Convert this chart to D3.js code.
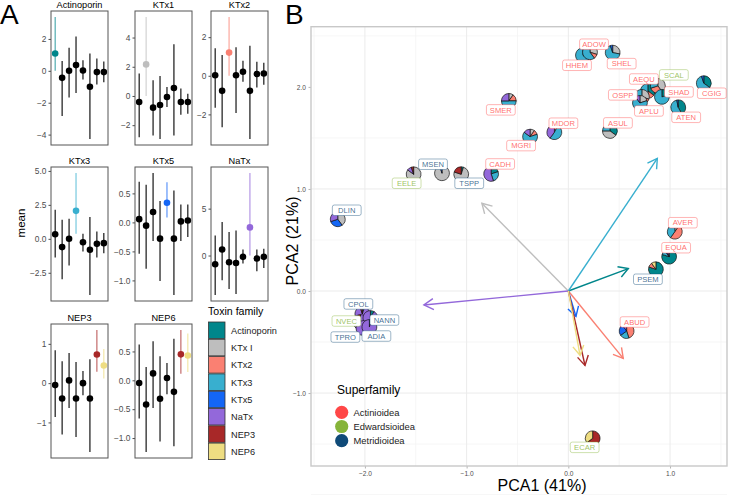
<!DOCTYPE html>
<html>
<head>
<meta charset="utf-8">
<script src="https://cdn.jsdelivr.net/npm/d3@7"></script>
<style>
body { margin: 0; background: #fff; }
svg { font-family: "Liberation Sans", Arial, sans-serif; }
</style>
</head>
<body>
<svg id="fig" width="731" height="495"></svg>
<script>
// toxin families, in the order they sit along each facet's x axis
var families = ["Actinoporin", "KTx1", "KTx2", "KTx3", "KTx5", "NaTx", "NEP3", "NEP6"];
var legendNames = ["Actinoporin", "KTx I", "KTx2", "KTx3", "KTx5", "NaTx", "NEP3", "NEP6"];
var familyColors = ["#00868B", "#BEBEBE", "#FA8072", "#38AFCF", "#1466F5", "#9368DA", "#A82828", "#EEDD82"];

// panel A: one row per facet, values per family
var facetTitles = ["Actinoporin", "KTx1", "KTx2", "KTx3", "KTx5", "NaTx", "NEP3", "NEP6"];
var means = [
    [1.09, -0.44, 0.0, 0.36, 0.02, -1.0, -0.08, -0.08],
    [-0.41, 2.16, -0.8, -0.62, -0.07, 0.55, -0.41, -0.41],
    [0.03, -0.78, 1.2, 0.03, 0.21, -0.78, 0.09, 0.12],
    [0.34, -0.61, 0.0, 2.06, -0.25, -0.81, -0.37, -0.32],
    [0.056, -0.056, 0.18, -0.28, 0.34, -0.28, 0.017, 0.034],
    [-0.93, 0.64, -0.71, -0.79, -0.14, 3.0, -0.32, -0.14],
    [-0.05, -0.39, 0.07, -0.39, 0.0, -0.39, 0.73, 0.45],
    [-0.046, -0.42, 0.12, -0.32, 0.04, -0.2, 0.45, 0.43]
];
var lower = [
    [0, -2.84, -1.68, -1.39, -0.55, -4.27, -0.86, -0.72],
    [-2.83, 0, -2.71, -2.94, -0.76, -2.71, -1.29, -1.22],
    [-1.65, -2.66, 0, -1.93, -0.31, -3.27, -0.61, -0.47],
    [-1.38, -2.97, -1.97, 0.37, -0.93, -4.13, -1.38, -1.06],
    [-0.54, -0.8, -0.32, -1.01, 0.085, -1.25, -0.32, -0.25],
    [-4.2, -2.64, -3.57, -4.1, -0.86, 0, -1.68, -1.32],
    [-0.86, -1.31, -0.63, -1.37, -0.31, -1.75, 0.29, 0.12],
    [-0.66, -1.24, -0.48, -1.06, -0.24, -1.14, 0.115, 0.144]
];
var upper = [
    [3.37, 0.61, 1.45, 2.15, 0.67, 1.09, 0.78, 0.59],
    [1.54, 5.4, 1.08, 1.36, 0.62, 3.54, 0.51, 0.16],
    [1.43, 1.08, 3.04, 1.48, 0.78, 1.55, 0.73, 0.68],
    [2.14, 1.4, 1.47, 4.84, 0.37, 1.6, 0.54, 0.42],
    [0.70, 0.65, 0.85, 0.37, 0.69, 0.55, 0.31, 0.31],
    [2.14, 3.57, 2.5, 2.68, 0.64, 8.79, 0.64, 0.71],
    [0.84, 0.56, 0.77, 0.54, 0.31, 0.61, 1.35, 0.87],
    [0.62, 0.23, 0.675, 0.415, 0.3, 0.72, 0.87, 0.81]
];
var highlighted = [[0], [1], [2], [3], [4], [5], [6, 7], [6, 7]];
var facetTicks = [
    [-4, -2, 0, 2], [-2, 0, 2, 4], [-2, 0, 2], [-2.5, 0, 2.5, 5],
    [-1, -0.5, 0, 0.5], [0, 5], [-1, 0, 1], [-1, -0.5, 0, 0.5]
];
var facetTickFormat = ["d", "d", "d", ".1f", ".1f", "d", "d", ".1f"];

// panel B: species scores
var species = ["HHEM", "ADOW", "SHEL", "AEQU", "SCAL", "OSPP", "SHAD", "APLU", "CGIG", "ATEN",
    "SMER", "MDOR", "ASUL", "MGRI", "EELE", "MSEN", "TSPP", "CADH", "DLIN",
    "CPOL", "NVEC", "NANN", "TPRO", "ADIA", "AVER", "EQUA", "PSEM", "ABUD", "ECAR"];
var pc1 = [0.144, 0.213, 0.436, 0.782, 0.88, 0.723, 0.92, 0.704, 1.332, 1.08,
    -0.585, -0.137, 0.409, -0.376, -1.521, -1.242, -1.053, -0.759, -2.267,
    -2.025, -2.044, -1.946, -2.015, -1.956, 1.047, 0.991, 0.861, 0.573, 0.239];
var pc2 = [2.31, 2.34, 2.336, 1.96, 2.01, 1.902, 1.902, 1.843, 2.036, 1.80,
    1.863, 1.556, 1.569, 1.513, 1.144, 1.154, 1.144, 1.147, 0.703,
    -0.225, -0.304, -0.265, -0.363, -0.353, 0.581, 0.336, 0.213, -0.392, -1.444];
var superfamily = ["Actinioidea", "Actinioidea", "Actinioidea", "Actinioidea", "Edwardsioidea",
    "Actinioidea", "Actinioidea", "Actinioidea", "Actinioidea", "Actinioidea",
    "Actinioidea", "Actinioidea", "Actinioidea", "Actinioidea", "Edwardsioidea",
    "Metridioidea", "Metridioidea", "Actinioidea", "Metridioidea",
    "Metridioidea", "Edwardsioidea", "Metridioidea", "Metridioidea", "Metridioidea",
    "Actinioidea", "Actinioidea", "Metridioidea", "Actinioidea", "Edwardsioidea"];
// share of each toxin family per species (same order as families)
var pieShares = [
    [10, 25, 0, 65, 0, 0, 0, 0],
    [0, 30, 10, 60, 0, 0, 0, 0],
    [0, 28, 0, 67, 5, 0, 0, 0],
    [35, 0, 15, 50, 0, 0, 0, 0],
    [0, 40, 30, 30, 0, 0, 0, 0],
    [0, 30, 30, 40, 0, 0, 0, 0],
    [20, 0, 0, 80, 0, 0, 0, 0],
    [0, 20, 0, 70, 0, 10, 0, 0],
    [35, 0, 0, 60, 5, 0, 0, 0],
    [42, 0, 0, 55, 3, 0, 0, 0],
    [0, 10, 15, 50, 0, 25, 0, 0],
    [0, 8, 0, 52, 0, 40, 0, 0],
    [35, 40, 0, 25, 0, 0, 0, 0],
    [0, 10, 10, 65, 0, 15, 0, 0],
    [0, 85, 0, 0, 0, 10, 5, 0],
    [0, 95, 0, 0, 5, 0, 0, 0],
    [5, 75, 0, 0, 0, 0, 20, 0],
    [20, 0, 0, 25, 0, 55, 0, 0],
    [0, 40, 0, 0, 30, 30, 0, 0],
    [5, 0, 0, 0, 0, 90, 5, 0],
    [0, 0, 0, 0, 0, 95, 5, 0],
    [8, 0, 0, 0, 0, 92, 0, 0],
    [0, 0, 0, 0, 0, 100, 0, 0],
    [5, 0, 0, 0, 0, 95, 0, 0],
    [0, 10, 50, 40, 0, 0, 0, 0],
    [80, 0, 0, 10, 5, 5, 0, 0],
    [80, 0, 10, 0, 0, 0, 0, 10],
    [0, 0, 45, 20, 25, 10, 0, 0],
    [0, 0, 0, 0, 0, 0, 65, 35]
];
// loadings (arrows) per toxin family
var loadX = [0.59, -0.85, 0.54, 0.875, 0.075, -1.42, 0.164, 0.115];
var loadY = [0.22, 0.86, -0.66, 1.30, -0.25, -0.137, -0.73, -0.63];

var superNames = ["Actinioidea", "Edwardsioidea", "Metridioidea"];
var superColors = ["#FF4747", "#86B43A", "#0F4A78"];

// label nudges from the pie centre, in px (repel layout)
var labelNudge = {
    HHEM: [-6, 10], ADOW: [4, -8], SHEL: [9, 11], AEQU: [-4, -12], SCAL: [16, -11],
    OSPP: [-19, -2], SHAD: [17, -5], APLU: [9, 8], CGIG: [8, 10], ATEN: [8, 10],
    SMER: [-8, 9], MDOR: [9, -9], ASUL: [8, -8], MGRI: [-9, 9], EELE: [-7, 9],
    MSEN: [-9, -9], TSPP: [8, 9], CADH: [9, -10], DLIN: [9, -9], CPOL: [-4, -10],
    NVEC: [-14, -1], NANN: [14, 2], TPRO: [-18, 9], ADIA: [7, 9], AVER: [8, -9],
    EQUA: [7, -9], PSEM: [-8, 10], ABUD: [8, -9], ECAR: [-8, 9]
};

var svg = d3.select("#fig");
svg.append("rect").attr("width", 731).attr("height", 495).attr("fill", "#fff");

var famColor = d3.scaleOrdinal().domain(families).range(familyColors);
var superColor = d3.scaleOrdinal().domain(superNames).range(superColors);

// ---------- panel A ----------
svg.append("text").attr("x", 0).attr("y", 24).attr("font-size", 28).text("A");

var colX = [51, 135, 211], rowY = [11, 167, 324];
var pw = 57, ph = 134;

facetTitles.forEach(function (title, i) {
    var x0 = colX[i % 3], y0 = rowY[Math.floor(i / 3)];
    var g = svg.append("g").attr("transform", `translate(${x0},${y0})`);
    var lo = d3.min(lower[i]), hi = d3.max(upper[i]);
    var pad = (hi - lo) * 0.05;
    var y = d3.scaleLinear().domain([lo - pad, hi + pad]).range([ph, 0]);
    var x = d3.scalePoint().domain(families).range([0, pw]).padding(0.6);

    g.append("text").attr("x", pw / 2).attr("y", -3.5).attr("text-anchor", "middle")
        .attr("font-size", 9.2).text(title);

    var fmt = d3.format(facetTickFormat[i]);
    var ax = g.append("g").call(d3.axisLeft(y).tickValues(facetTicks[i]).tickSize(2.5)
        .tickPadding(2).tickFormat(fmt));
    ax.select(".domain").remove();
    ax.selectAll("line").attr("stroke", "#4D4D4D");
    ax.selectAll("text").attr("fill", "#4D4D4D").attr("font-size", 8.4)
        .attr("font-family", "Liberation Sans, Arial, sans-serif");

    var rows = families.map(function (f, j) {
        return { fam: f, m: means[i][j], lo: lower[i][j], hi: upper[i][j], hl: highlighted[i].includes(j) };
    });
    g.selectAll(".bar").data(rows).enter().append("line")
        .attr("x1", d => x(d.fam)).attr("x2", d => x(d.fam))
        .attr("y1", d => y(d.lo)).attr("y2", d => y(d.hi))
        .attr("stroke", d => d.hl ? famColor(d.fam) : "#000")
        .attr("stroke-opacity", d => d.hl ? 0.75 : 1)
        .attr("stroke-width", 1.1);
    g.selectAll(".pt").data(rows).enter().append("circle")
        .attr("cx", d => x(d.fam)).attr("cy", d => y(d.m)).attr("r", 3.3)
        .attr("fill", d => d.hl ? famColor(d.fam) : "#000");

    g.append("rect").attr("width", pw).attr("height", ph).attr("fill", "none")
        .attr("stroke", "#555").attr("stroke-width", 1);
});

svg.append("text").attr("transform", "translate(25,223) rotate(-90)")
    .attr("text-anchor", "middle").attr("font-size", 11.5).text("mean");

// toxin family legend
var leg = svg.append("g").attr("transform", "translate(208,321.5)");
leg.append("text").attr("x", 0).attr("y", -6.5).attr("font-size", 10.6).text("Toxin family");
legendNames.forEach(function (n, k) {
    leg.append("rect").attr("x", 0.5).attr("y", k * 17.3 + 0.5).attr("width", 16.5).attr("height", 16.5)
        .attr("fill", familyColors[k]).attr("stroke", "#333").attr("stroke-width", 0.8);
    leg.append("text").attr("x", 23).attr("y", k * 17.3 + 9).attr("dy", "0.35em")
        .attr("font-size", 9.2).attr("fill", "#222").text(n);
});

// ---------- panel B ----------
svg.append("text").attr("x", 285).attr("y", 24).attr("font-size", 28).text("B");

var bx = d3.scaleLinear().domain([-2.53, 1.56]).range([311, 727]);
var by = d3.scaleLinear().domain([-1.715, 2.59]).range([466, 26.7]);

var grid = svg.append("g");
[-2.5, -1.5, -0.5, 0.5, 1.5].forEach(function (v) {
    grid.append("line").attr("x1", bx(v)).attr("x2", bx(v)).attr("y1", 26.7).attr("y2", 466)
        .attr("stroke", "#F4F4F4").attr("stroke-width", 0.8);
});
[-1.5, -0.5, 0.5, 1.5, 2.5].forEach(function (v) {
    grid.append("line").attr("y1", by(v)).attr("y2", by(v)).attr("x1", 311).attr("x2", 727)
        .attr("stroke", "#F4F4F4").attr("stroke-width", 0.8);
});
[-2, -1, 0, 1].forEach(function (v) {
    grid.append("line").attr("x1", bx(v)).attr("x2", bx(v)).attr("y1", 26.7).attr("y2", 466)
        .attr("stroke", "#EBEBEB").attr("stroke-width", 1);
    grid.append("line").attr("y1", by(v)).attr("y2", by(v)).attr("x1", 311).attr("x2", 727)
        .attr("stroke", "#EBEBEB").attr("stroke-width", 1);
});

var xAxis = svg.append("g").attr("transform", "translate(0,466)")
    .call(d3.axisBottom(bx).tickValues([-2, -1, 0, 1]).tickSize(2.5).tickPadding(2.5));
var yAxis = svg.append("g").attr("transform", "translate(311,0)")
    .call(d3.axisLeft(by).tickValues([-1, 0, 1, 2]).tickSize(2.5).tickPadding(2.5));
[xAxis, yAxis].forEach(function (a) {
    a.select(".domain").remove();
    a.selectAll("line").attr("stroke", "#B3B3B3");
    a.selectAll("text").attr("fill", "#4D4D4D").attr("font-size", 6.6)
        .attr("font-family", "Liberation Sans, Arial, sans-serif");
});

svg.append("rect").attr("x", 311).attr("y", 26.7).attr("width", 416).attr("height", 439.3)
    .attr("fill", "none").attr("stroke", "#C8C8C8").attr("stroke-width", 1.4);

svg.append("text").attr("x", 542).attr("y", 491).attr("text-anchor", "middle")
    .attr("font-size", 16).text("PCA1 (41%)");
svg.append("text").attr("transform", "translate(298,241) rotate(-90)")
    .attr("text-anchor", "middle").attr("font-size", 16).text("PCA2 (21%)");

// loading arrows
var arrows = svg.append("g");
families.forEach(function (f, k) {
    var x1 = bx(0), y1 = by(0), x2 = bx(loadX[k]), y2 = by(loadY[k]);
    var ang = Math.atan2(y2 - y1, x2 - x1), len = 11, spread = Math.PI / 6;
    var col = familyColors[k];
    arrows.append("line").attr("x1", x1).attr("y1", y1).attr("x2", x2).attr("y2", y2)
        .attr("stroke", col).attr("stroke-width", 1.4);
    arrows.append("path")
        .attr("d", `M${x2 - len * Math.cos(ang - spread)},${y2 - len * Math.sin(ang - spread)}` +
            `L${x2},${y2}L${x2 - len * Math.cos(ang + spread)},${y2 - len * Math.sin(ang + spread)}`)
        .attr("fill", "none").attr("stroke", col).attr("stroke-width", 1.4);
});

// pies
var pie = d3.pie().sort(null).value(d => d);
var arc = d3.arc().innerRadius(0).outerRadius(7.4);
species.forEach(function (s, i) {
    var g = svg.append("g").attr("transform", `translate(${bx(pc1[i])},${by(pc2[i])})`);
    g.selectAll("path").data(pie(pieShares[i]).filter(d => d.data > 0)).enter().append("path")
        .attr("d", arc).attr("fill", d => familyColors[d.index])
        .attr("stroke", "#111").attr("stroke-width", 0.7);
});

// labels
species.forEach(function (s, i) {
    var nd = labelNudge[s];
    var cx = bx(pc1[i]) + nd[0], cy = by(pc2[i]) + nd[1];
    var col = superColor(superfamily[i]);
    var w = s.length * 5.7 + 6, h = 10.5;
    var g = svg.append("g").attr("transform", `translate(${cx},${cy})`);
    g.append("rect").attr("x", -w / 2).attr("y", -h / 2).attr("width", w).attr("height", h)
        .attr("rx", 2).attr("fill", "#fff").attr("stroke", col).attr("stroke-opacity", 0.45)
        .attr("stroke-width", 0.9);
    g.append("text").attr("text-anchor", "middle").attr("dy", "0.36em")
        .attr("font-size", 7.6).attr("fill", col).attr("fill-opacity", 0.8).text(s);
});

// superfamily legend
var sl = svg.append("g").attr("transform", "translate(337,0)");
sl.append("text").attr("x", 0).attr("y", 394).attr("font-size", 12).text("Superfamily");
superNames.forEach(function (n, k) {
    var yy = 412.3 + k * 14.2;
    sl.append("circle").attr("cx", 4.7).attr("cy", yy).attr("r", 6.6).attr("fill", superColors[k]);
    sl.append("text").attr("x", 16.5).attr("y", yy).attr("dy", "0.35em").attr("font-size", 9.4)
        .attr("fill", "#222").text(n);
});
</script>
</body>
</html>
